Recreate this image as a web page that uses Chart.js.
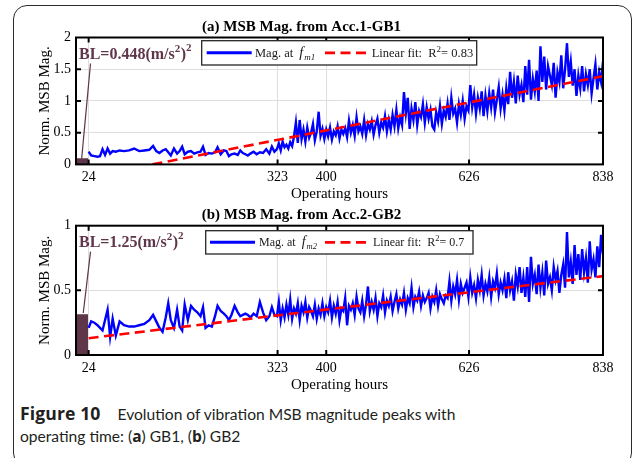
<!DOCTYPE html>
<html>
<head>
<meta charset="utf-8">
<script src="https://cdn.jsdelivr.net/npm/chart.js@4.4.0/dist/chart.umd.min.js"></script>
<style>
  html, body { margin: 0; padding: 0; background: #fff; }
  body { width: 632px; height: 458px; position: relative; overflow: hidden; }
  .frame { position: absolute; left: 13px; top: 5px; width: 619px; height: 462px; box-sizing: border-box;
           border: 1.3px solid #2a2a2a; border-radius: 14px; }
  canvas { position: absolute; left: 0; }
  #gb1 { top: 0; }
  #gb2 { top: 200px; }
  .caption { position: absolute; left: 20px; top: 402px; font-family: Lato, "Open Sans", sans-serif;
             font-size: 15.6px; line-height: 22.4px; color: #231f20; white-space: nowrap; }
  .caption b { font-family: "Open Sans", sans-serif; font-weight: 700; font-size: 15.5px; }
  .caption .fig { font-size: 17.6px; letter-spacing: 0.1px; margin-right: 13px; }
</style>
</head>
<body>
<div class="frame"></div>
<canvas id="gb1" width="632" height="204"></canvas>
<canvas id="gb2" width="632" height="195"></canvas>
<div class="caption"><b class="fig">Figure 10</b> Evolution of vibration MSB magnitude peaks with<br>operating time: (<b>a</b>) GB1, (<b>b</b>) GB2</div>

<script>
// operating hours of each measurement (sparse first month, then dense logging)
const hoursEarly = [24, 28, 33, 38, 42, 46, 50, 54, 58, 62, 67, 73, 80, 88, 96, 104, 112, 120, 126, 131,
  136, 141, 146, 150, 154, 159, 164, 168, 172, 176, 181, 186, 191, 196, 201, 205, 209, 214, 219, 224,
  228, 233, 238, 242, 246, 250, 255, 260, 264, 268, 272, 276, 280, 285, 290, 295, 300, 305, 310, 314, 318];
const hoursLate = [322, 325, 328, 331, 334, 337, 340, 343, 346, 349,
  352, 355, 358, 361, 364, 367, 370, 373, 376, 379, 382, 385, 388, 391, 394, 397, 400, 403, 406, 409,
  412, 415, 418, 421, 424, 427, 430, 433, 436, 439, 442, 445, 448, 451, 454, 457, 460, 463, 466, 469,
  472, 475, 478, 481, 484, 487, 490, 493, 496, 499, 502, 505, 508, 511, 514, 517, 520, 523, 526, 529,
  532, 535, 538, 541, 544, 547, 550, 553, 556, 559, 562, 565, 568, 571, 574, 577, 580, 583, 586, 589,
  592, 595, 598, 601, 604, 607, 610, 613, 616, 619, 622, 625, 628, 631, 634, 637, 640, 643, 646, 649,
  652, 655, 658, 661, 664, 667, 670, 673, 676, 679, 682, 685, 688, 691, 694, 697, 700, 703, 706, 709,
  712, 715, 718, 721, 724, 727, 730, 733, 736, 739, 742, 745, 748, 751, 754, 757, 760, 763, 766, 769,
  772, 775, 778, 781, 784, 787, 790, 793, 796, 799, 802, 805, 808, 811, 814, 817, 820, 823, 826, 829,
  832, 835, 838];

// normalised MSB magnitude at f_m1 (Acc.1, GB1)
const mag1Early = [0.20, 0.14, 0.13, 0.12, 0.13, 0.24, 0.15, 0.25, 0.17, 0.21,
  0.20, 0.22, 0.21, 0.22, 0.25, 0.21, 0.22, 0.23, 0.29, 0.21,
  0.18, 0.22, 0.24, 0.19, 0.14, 0.25, 0.17, 0.21, 0.28, 0.16,
  0.20, 0.21, 0.17, 0.19, 0.20, 0.28, 0.15, 0.18, 0.17, 0.19,
  0.27, 0.16, 0.22, 0.21, 0.13, 0.16, 0.17, 0.15, 0.22, 0.18,
  0.16, 0.14, 0.17, 0.20, 0.16, 0.19, 0.18, 0.24, 0.17, 0.28, 0.20];
const mag1Late = [0.24, 0.33, 0.22, 0.36, 0.27, 0.31, 0.25, 0.35, 0.29, 0.44,
  0.66, 0.34, 0.70, 0.40, 0.55, 0.36, 0.58, 0.42, 0.50, 0.64,
  0.38, 0.52, 0.83, 0.45, 0.56, 0.40, 0.55, 0.44, 0.58, 0.39,
  0.52, 0.46, 0.60, 0.41, 0.55, 0.48, 0.57, 0.43, 0.69, 0.50,
  0.62, 0.45, 0.74, 0.52, 0.60, 0.48, 0.70, 0.46, 0.64, 0.55,
  0.68, 0.47, 0.62, 0.72, 0.50, 0.66, 0.58, 0.76, 0.52, 0.70,
  0.55, 0.78, 0.60, 0.86, 0.57, 0.74, 0.62, 1.14, 0.80, 1.05,
  0.56, 0.88, 0.70, 0.98, 0.62, 0.84, 0.75, 0.95, 0.66, 0.90,
  0.72, 0.86, 0.60, 0.55, 0.82, 0.68, 0.92, 0.64, 0.85, 0.75,
  0.96, 0.70, 1.05, 0.80, 0.88, 0.66, 0.95, 0.78, 1.00, 0.72,
  0.92, 0.85, 1.25, 0.90, 1.10, 0.80, 1.05, 0.88, 1.15, 0.76,
  1.08, 0.84, 1.12, 0.90, 1.18, 0.82, 1.02, 1.22, 0.88, 1.10,
  0.85, 1.20, 0.95, 1.46, 1.05, 1.30, 0.96, 1.40, 1.10, 1.25,
  0.98, 1.55, 1.10, 1.65, 1.02, 1.35, 1.15, 1.48, 1.00, 1.86,
  1.30, 1.70, 1.18, 1.55, 1.40, 1.25, 1.60, 1.05, 1.45, 1.30,
  1.72, 1.20, 1.50, 1.91, 1.38, 1.62, 1.24, 1.50, 1.08, 1.40,
  1.20, 1.55, 1.15, 1.42, 1.25, 1.50, 1.12, 1.36, 1.58, 1.18,
  1.45, 1.30, 1.62];

// normalised MSB magnitude at f_m2 (Acc.2, GB2)
const mag2Early = [0.21, 0.26, 0.25, 0.23, 0.21, 0.19, 0.27, 0.35, 0.14, 0.28,
  0.15, 0.26, 0.23, 0.22, 0.22, 0.23, 0.24, 0.27, 0.31, 0.26,
  0.21, 0.18, 0.29, 0.40, 0.27, 0.21, 0.35, 0.22, 0.19, 0.39,
  0.27, 0.38, 0.35, 0.33, 0.30, 0.37, 0.21, 0.23, 0.22, 0.30,
  0.38, 0.34, 0.32, 0.30, 0.27, 0.31, 0.38, 0.33, 0.30, 0.31,
  0.32, 0.31, 0.29, 0.32, 0.30, 0.41, 0.33, 0.27, 0.30, 0.37, 0.31];
const mag2Late = [0.30, 0.41, 0.27, 0.36, 0.29, 0.39, 0.31, 0.43, 0.28, 0.36,
  0.32, 0.40, 0.27, 0.38, 0.33, 0.41, 0.29, 0.37, 0.34, 0.30,
  0.39, 0.28, 0.36, 0.31, 0.40, 0.30, 0.37, 0.33, 0.42, 0.29,
  0.38, 0.32, 0.41, 0.27, 0.36, 0.34, 0.44, 0.23, 0.38, 0.35,
  0.40, 0.31, 0.45, 0.36, 0.33, 0.42, 0.30, 0.39, 0.53, 0.34,
  0.41, 0.35, 0.44, 0.30, 0.40, 0.37, 0.46, 0.33, 0.42, 0.38,
  0.45, 0.34, 0.41, 0.47, 0.36, 0.43, 0.39, 0.48, 0.35, 0.44,
  0.40, 0.52, 0.37, 0.45, 0.42, 0.49, 0.38, 0.46, 0.41, 0.44,
  0.48, 0.36, 0.45, 0.41, 0.50, 0.38, 0.47, 0.43, 0.40, 0.46,
  0.44, 0.57, 0.42, 0.53, 0.47, 0.58, 0.43, 0.55, 0.48, 0.52,
  0.56, 0.45, 0.60, 0.48, 0.54, 0.44, 0.58, 0.50, 0.62, 0.46,
  0.55, 0.49, 0.60, 0.45, 0.57, 0.52, 0.63, 0.47, 0.56, 0.50,
  0.59, 0.44, 0.64, 0.50, 0.57, 0.42, 0.62, 0.53, 0.68, 0.48,
  0.60, 0.45, 0.68, 0.41, 0.76, 0.55, 0.62, 0.47, 0.70, 0.52,
  0.64, 0.46, 0.73, 0.55, 0.60, 0.50, 0.68, 0.58, 0.65, 0.48,
  0.62, 0.70, 0.52, 0.95, 0.60, 0.72, 0.55, 0.85, 0.62, 0.78,
  0.58, 0.82, 0.64, 0.75, 0.56, 0.88, 0.66, 0.74, 0.60, 0.84,
  0.68, 0.93, 0.78];

// linear fits (end points)
const fit1Hours = [125, 838];
const fit1Vals = [0, 1.39];
const fit2Hours = [24, 838];
const fit2Vals = [0.13, 0.61];

// baseline level block and its call-out line
const blHours = [4, 23];
const bl1 = 0.095;
const bl2 = 0.315;
const link1Hours = [13, 27];
const link1Vals = [0.095, 1.59];
const link2Hours = [15.5, 27];
const link2Vals = [0.325, 0.80];

// axis ticks
const xTicks = [24, 323, 400, 626, 838];
const yTicks1 = [0, 0.5, 1, 1.5, 2];
const yTicks2 = [0, 0.5, 1];

const BLUE = '#0000ff';
const RED = '#ff0000';
const MAROON = '#5f3549';
const GRID = '#dedede';
const SERIF = '"Liberation Serif", "Times New Roman", serif';
const DASH = [10, 5.5];
const TICK = 5;

const pairs = (xs, ys) => xs.map((h, i) => ({ x: h, y: ys[i] }));

// draw a run of text pieces (used for sub/superscripts); returns the end x
function drawRuns(ctx, runs, x, y) {
  runs.forEach(r => {
    ctx.font = r.font;
    ctx.fillText(r.t, x, y + (r.dy || 0));
    x += ctx.measureText(r.t).width + (r.gap || 0);
  });
  return x;
}

const panelDecor = {
  id: 'panelDecor',
  afterDraw(chart, args, o) {
    const { ctx, chartArea: a, scales: { x, y } } = chart;
    ctx.save();

    // inward ticks on all four sides + box
    ctx.strokeStyle = '#000';
    ctx.lineWidth = 2;
    ctx.beginPath();
    x.ticks.forEach(t => {
      const px = x.getPixelForValue(t.value);
      if (px <= a.left + 1 || px >= a.right - 1) return;
      ctx.moveTo(px, a.bottom); ctx.lineTo(px, a.bottom - TICK);
      ctx.moveTo(px, a.top); ctx.lineTo(px, a.top + TICK);
    });
    y.ticks.forEach(t => {
      const py = y.getPixelForValue(t.value);
      if (py <= a.top + 1 || py >= a.bottom - 1) return;
      ctx.moveTo(a.left, py); ctx.lineTo(a.left + TICK, py);
      ctx.moveTo(a.right, py); ctx.lineTo(a.right - TICK, py);
    });
    ctx.stroke();
    ctx.strokeRect(a.left, a.top, a.right - a.left, a.bottom - a.top);

    // baseline label
    ctx.fillStyle = MAROON;
    ctx.textBaseline = 'alphabetic';
    const bf = 'bold 16px ' + SERIF, bs = 'bold 11px ' + SERIF;
    drawRuns(ctx, [
      { t: o.blText, font: bf },
      { t: '2', font: bs, dy: -7, gap: 0.5 },
      { t: ')', font: bf },
      { t: '2', font: bs, dy: -8 }
    ], a.left + 3, a.top + 21);

    // legend
    const L = o.legend;
    const x0 = a.left + L.dx, y0 = a.top + L.dy, cy = y0 + L.h / 2;
    ctx.fillStyle = '#fff';
    ctx.fillRect(x0, y0, L.w, L.h);
    ctx.strokeStyle = '#262626';
    ctx.lineWidth = 1.3;
    ctx.strokeRect(x0, y0, L.w, L.h);

    ctx.strokeStyle = BLUE;
    ctx.lineWidth = 3;
    ctx.beginPath();
    ctx.moveTo(x0 + L.blue[0], cy); ctx.lineTo(x0 + L.blue[1], cy);
    ctx.stroke();

    ctx.strokeStyle = RED;
    ctx.lineWidth = 2.6;
    ctx.setLineDash(DASH);
    ctx.beginPath();
    ctx.moveTo(x0 + L.red[0], cy); ctx.lineTo(x0 + L.red[1], cy);
    ctx.stroke();
    ctx.setLineDash([]);

    ctx.fillStyle = '#1a1a1a';
    const base = cy + 4;
    const nf = L.fs + 'px ' + SERIF;
    drawRuns(ctx, [
      { t: 'Mag. at ', font: nf, gap: 3 },
      { t: 'f', font: 'italic ' + (L.fs + 2) + 'px ' + SERIF, gap: 1 },
      { t: o.sub, font: 'italic ' + (L.fs - 3.5) + 'px ' + SERIF, dy: 3 }
    ], x0 + L.text1, base);
    drawRuns(ctx, [
      { t: 'Linear fit:  R', font: nf },
      { t: '2', font: (L.fs - 3.5) + 'px ' + SERIF, dy: -5 },
      { t: '= ' + o.r2, font: nf }
    ], x0 + L.text2, base);

    ctx.restore();
  }
};

function makePanel(id, p) {
  return new Chart(document.getElementById(id), {
    type: 'line',
    data: {
      datasets: [
        { label: 'Linear fit', data: pairs(p.fitHours, p.fitVals), borderColor: RED, borderWidth: 2.6,
          borderDash: DASH, pointRadius: 0, order: 0 },
        { label: 'Mag. at ' + p.sub, data: pairs(p.hours, p.mag), borderColor: BLUE, borderWidth: 2.4,
          pointRadius: 0, order: 1 },
        { label: 'BL', data: pairs(blHours, [p.bl, p.bl]), borderWidth: 0, borderColor: MAROON,
          backgroundColor: MAROON, fill: 'origin', pointRadius: 0, order: 2 },
        { label: 'BL link', data: pairs(p.linkHours, p.linkVals), borderColor: MAROON, borderWidth: 1.2,
          pointRadius: 0, order: 3 }
      ]
    },
    options: {
      responsive: false,
      devicePixelRatio: 1,
      animation: false,
      layout: { padding: { left: 0, right: 29, top: p.padTop, bottom: 0 } },
      elements: { line: { tension: 0 } },
      scales: {
        x: {
          type: 'linear', min: 4, max: 838,
          afterBuildTicks: s => { s.ticks = xTicks.map(v => ({ value: v })); },
          afterFit: s => { s.height = p.xAxisH; },
          grid: { color: GRID, lineWidth: 1, drawTicks: false },
          border: { display: false },
          ticks: { font: { family: SERIF, size: 14 }, color: '#000', padding: 5, maxRotation: 0, autoSkip: false },
          title: { display: true, text: 'Operating hours', color: '#000',
                   font: { family: SERIF, size: 15 }, padding: { top: 0, bottom: p.xTitlePad } }
        },
        y: {
          min: 0, max: p.yMax,
          afterBuildTicks: s => { s.ticks = p.yTicks.map(v => ({ value: v })); },
          afterFit: s => { s.width = 76; },
          grid: { color: GRID, lineWidth: 1, drawTicks: false },
          border: { display: false },
          ticks: { font: { family: SERIF, size: 14 }, color: '#000', padding: 5, callback: v => String(v) },
          title: { display: true, text: 'Norm. MSB Mag.', color: '#000',
                   font: { family: SERIF, size: 15 }, padding: { top: 36, bottom: 0 } }
        }
      },
      plugins: {
        legend: { display: false },
        tooltip: { enabled: false },
        title: { display: true, text: p.title, color: '#000',
                 font: { family: SERIF, size: 15, weight: 'bold' },
                 padding: { top: p.titleTop, bottom: p.titleBottom } },
        panelDecor: p.decor
      }
    },
    plugins: [panelDecor]
  });
}

makePanel('gb1', {
  hours: hoursEarly.concat(hoursLate), mag: mag1Early.concat(mag1Late),
  fitHours: fit1Hours, fitVals: fit1Vals, bl: bl1, linkHours: link1Hours, linkVals: link1Vals,
  yMax: 2, yTicks: yTicks1, sub: 'm1',
  title: '(a) MSB Mag. from Acc.1-GB1',
  padTop: 0, titleTop: 18.5, titleBottom: 1, xAxisH: 39.6, xTitlePad: 1,
  decor: { blText: 'BL=0.448(m/s', sub: 'm1', r2: '0.83',
           legend: { dx: 125.7, dy: 3.2, w: 275, h: 24.3, fs: 12.5, blue: [5, 50], red: [123.3, 166.6], text1: 53.3, text2: 170 } }
});

makePanel('gb2', {
  hours: hoursEarly.concat(hoursLate), mag: mag2Early.concat(mag2Late),
  fitHours: fit2Hours, fitVals: fit2Vals, bl: bl2, linkHours: link2Hours, linkVals: link2Vals,
  yMax: 1, yTicks: yTicks2, sub: 'm2',
  title: '(b) MSB Mag. from Acc.2-GB2',
  padTop: 0, titleTop: 6, titleBottom: 1.7, xAxisH: 40, xTitlePad: 1,
  decor: { blText: 'BL=1.25(m/s', sub: 'm2', r2: '0.7',
           legend: { dx: 129.7, dy: 5, w: 267.3, h: 23.3, fs: 12, blue: [4.3, 49.3], red: [119.3, 164.3], text1: 53.3, text2: 167.3 } }
});
</script>
</body>
</html>
